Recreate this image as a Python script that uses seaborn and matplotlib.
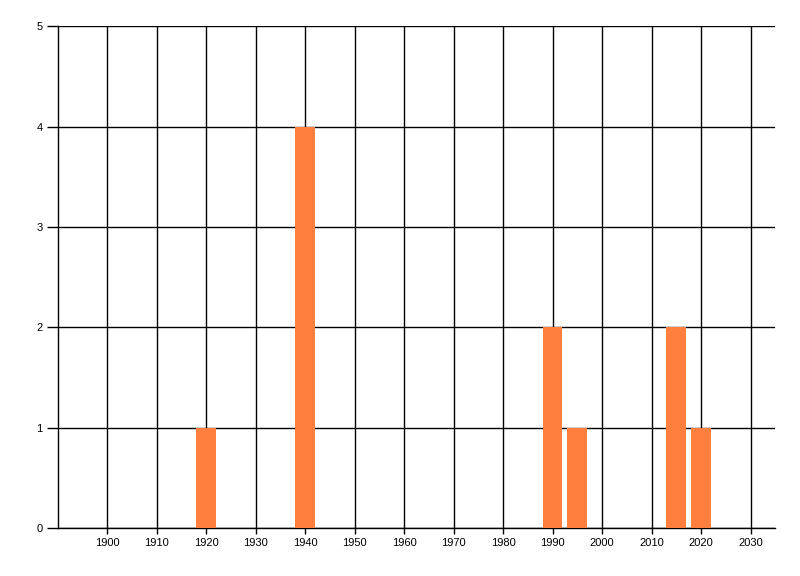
import matplotlib
matplotlib.use("Agg")
import matplotlib.pyplot as plt
import seaborn as sns
import pandas as pd

years = [1920, 1940, 1990, 1995, 2015, 2020]
counts = [1, 4, 2, 1, 2, 1]
x_ticks = list(range(1900, 2031, 10))
y_ticks = [0, 1, 2, 3, 4, 5]

sns.set_theme(style="white")
plt.rcParams['font.family'] = ['Liberation Sans', 'DejaVu Sans']

df = pd.DataFrame({"year": years, "count": counts})

fig = plt.figure(figsize=(8, 5.76), dpi=100)
ax = fig.add_axes([57.7 / 800, 1 - 527.8 / 576, (775.3 - 57.7) / 800, (527.8 - 26.3) / 576])

sns.barplot(data=df, x="year", y="count", native_scale=True, width=0.8,
            color="#FF7F3F", saturation=1, linewidth=0, ax=ax, zorder=3)

ax.set_xlim(1890, 2035)
ax.set_ylim(0, 5)
ax.set_xticks(x_ticks)
ax.set_xticklabels([str(t) for t in x_ticks])
ax.set_yticks(y_ticks)
ax.set_yticklabels([str(t) for t in y_ticks])
ax.set_xlabel("")
ax.set_ylabel("")

ax.grid(True, color="black", linewidth=1.0, zorder=0)
ax.set_axisbelow(True)
for s in ["top", "right"]:
    ax.spines[s].set_visible(False)
for s in ["left", "bottom"]:
    ax.spines[s].set_color("black")
    ax.spines[s].set_linewidth(1.0)

ax.tick_params(axis="y", which="major", left=True, length=8, width=1.0, color="black",
               labelsize=8, pad=3, labelcolor="black")
ax.tick_params(axis="x", which="major", bottom=True, length=4, width=1.0, color="black",
               labelsize=8, pad=3, labelcolor="black")

fig.savefig("out.png", dpi=100, facecolor="white")
